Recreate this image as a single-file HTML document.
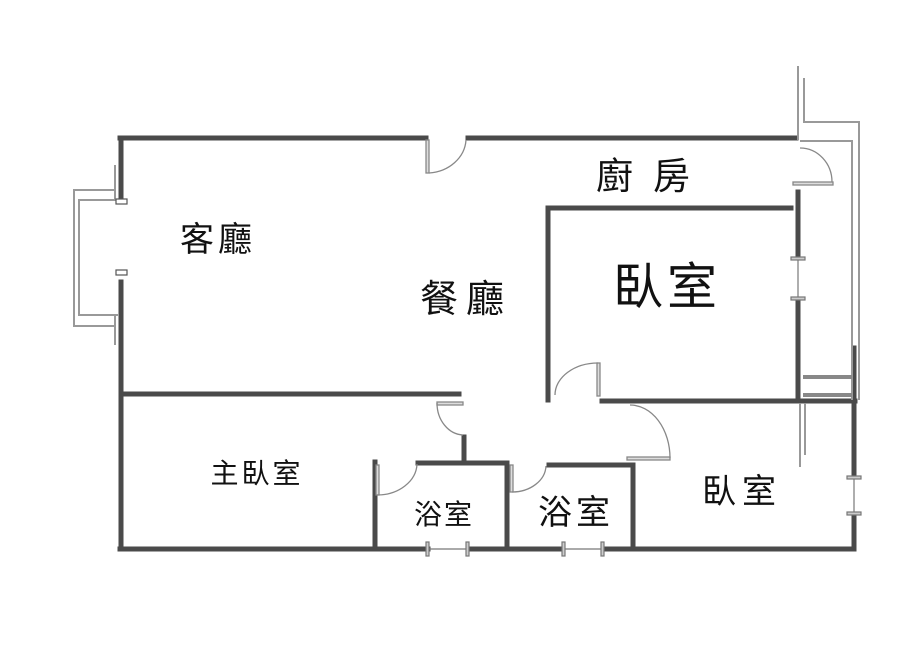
<!DOCTYPE html>
<html><head><meta charset="utf-8"><style>
html,body{margin:0;padding:0;background:#fff;width:900px;height:649px;overflow:hidden}
svg{display:block}
text{font-family:"Liberation Sans","Noto Sans CJK TC",sans-serif;fill:#111}
</style></head><body>
<svg width="900" height="649" viewBox="0 0 900 649" xmlns="http://www.w3.org/2000/svg">
<g stroke="#4a4a4a" stroke-width="5" fill="none" stroke-linecap="square">
<line x1="120" y1="138" x2="426" y2="138"/>
<line x1="468" y1="138" x2="796" y2="138"/>
<line x1="121" y1="138" x2="121" y2="198"/>
<line x1="121" y1="282" x2="121" y2="549"/>
<line x1="121" y1="394" x2="459" y2="394"/>
<line x1="120" y1="549" x2="428" y2="549"/>
<line x1="468" y1="549" x2="563" y2="549"/>
<line x1="603" y1="549" x2="853" y2="549"/>
<line x1="375" y1="462" x2="375" y2="549"/>
<line x1="418" y1="463" x2="507" y2="463"/>
<line x1="464" y1="437" x2="464" y2="463"/>
<line x1="507" y1="463" x2="507" y2="549"/>
<line x1="549" y1="465" x2="633" y2="465"/>
<line x1="633" y1="465" x2="633" y2="549"/>
<line x1="548" y1="208" x2="548" y2="400"/>
<line x1="548" y1="208" x2="791" y2="208"/>
<line x1="798" y1="192" x2="798" y2="256"/>
<line x1="798" y1="300" x2="798" y2="400"/>
<line x1="602" y1="401" x2="855" y2="401"/>
<line x1="854" y1="348" x2="854" y2="475"/>
<line x1="854" y1="515" x2="854" y2="549"/>
</g>
<g stroke="#999" stroke-width="2" fill="none">
<polyline points="115,190 74,190 74,326 115,326"/>
<polyline points="118,200 79,200 79,315 118,315"/>
<line x1="115" y1="165" x2="115" y2="200"/>
<line x1="115" y1="315" x2="115" y2="345"/>
<polyline points="798,66 798,140"/>
<polyline points="804,78 804,122 859,122 859,400"/>
<polyline points="800,141 852,141 852,400"/>
<line x1="800" y1="403" x2="800" y2="467"/>
<line x1="805" y1="403" x2="805" y2="455"/>
</g>
<g stroke="#888" stroke-width="4"><line x1="803" y1="377" x2="852" y2="377"/><line x1="803" y1="395" x2="852" y2="395"/></g>
<g fill="#fff" stroke="#555" stroke-width="1.2">
<rect x="116" y="199" width="11" height="5"/><rect x="116" y="270" width="11" height="5"/>
</g>
<g stroke="#777" stroke-width="1.2" fill="#ccc">
<line x1="428" y1="549" x2="468" y2="549"/><rect x="426" y="542" width="3" height="14"/><rect x="466" y="542" width="3" height="14"/>
<line x1="563" y1="549" x2="603" y2="549"/><rect x="562" y="542" width="3" height="14"/><rect x="601" y="542" width="3" height="14"/>
<line x1="798" y1="258" x2="798" y2="299"/><rect x="791" y="257" width="14" height="3"/><rect x="791" y="297" width="14" height="3"/>
<line x1="854" y1="477" x2="854" y2="513"/><rect x="847" y="476" width="14" height="3"/><rect x="847" y="512" width="14" height="3"/>
</g>
<g stroke="#888" stroke-width="1.3" fill="none">
<rect x="426" y="140" width="3" height="33" fill="#ddd"/>
<path d="M429,173 A40,35 0 0 0 466,140"/>
<rect x="437" y="402" width="26" height="3" fill="#ddd"/>
<path d="M437,403 A27,32 0 0 0 463,435"/>
<rect x="376" y="465" width="3" height="30" fill="#ddd"/>
<path d="M377,495 A40,32 0 0 0 417,464"/>
<rect x="510" y="465" width="3" height="27" fill="#ddd"/>
<path d="M512,492 A34,27 0 0 0 546,466"/>
<rect x="597" y="363" width="3" height="33" fill="#ddd"/>
<path d="M598,363 A43,32 0 0 0 555,395"/>
<rect x="627" y="457" width="43" height="3" fill="#ddd"/>
<path d="M630,405 A40,53 0 0 1 670,458"/>
<rect x="793" y="182" width="40" height="3" fill="#ddd"/>
<path d="M800,148 A32,34 0 0 1 832,182"/>
</g>
<text x="218" y="251" font-size="34" letter-spacing="4" text-anchor="middle">客廳</text>
<text x="466" y="312" font-size="38" letter-spacing="8" text-anchor="middle">餐廳</text>
<text x="653" y="189" font-size="37" letter-spacing="20" text-anchor="middle">廚房</text>
<text x="667" y="304" font-size="50" letter-spacing="4" text-anchor="middle">臥室</text>
<text x="257" y="483" font-size="28" letter-spacing="3" text-anchor="middle">主臥室</text>
<text x="444" y="524" font-size="28" letter-spacing="2" text-anchor="middle">浴室</text>
<text x="576" y="524" font-size="34" letter-spacing="4" text-anchor="middle">浴室</text>
<text x="742" y="503" font-size="34" letter-spacing="6" text-anchor="middle">臥室</text>
</svg>
</body></html>
